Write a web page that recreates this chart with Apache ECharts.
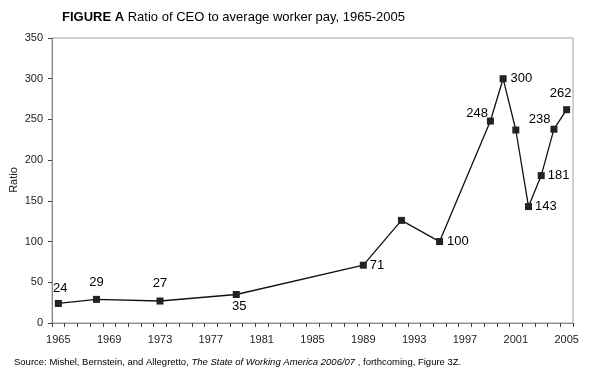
<!DOCTYPE html>
<html><head><meta charset="utf-8">
<script src="https://cdn.jsdelivr.net/npm/echarts@6/dist/echarts.min.js"></script>
<style>html,body{margin:0;padding:0;background:#fff}#c{width:600px;height:382px}</style>
</head><body><div id="c"></div>
<script>
// Data
const years = [];
for (let y = 1965; y <= 2005; y++) years.push(String(y));
const obsYears = [1965, 1968, 1973, 1979, 1989, 1992, 1995, 1999, 2000, 2001, 2002, 2003, 2004, 2005];
const ratios   = [24,   29,   27,   35,   71,   126,  100,  248,  300,  237,  143,  181,  238,  262];
const labeled  = [true, true, true, true, true, false, true, true, true, false, true, true, true, true];
const yTicks = [0, 50, 100, 150, 200, 250, 300, 350];

// label placement (style only)
const labelStyle = {
  1965: {position: 'top', distance: 5, offset: [2, 0]},
  1968: {position: 'top', distance: 7},
  1973: {position: 'top', distance: 8},
  1979: {position: 'bottom', distance: 2, offset: [3, 0]},
  1989: {position: 'right', distance: 3},
  1995: {position: 'right', distance: 4},
  1999: {position: 'left', distance: 1, offset: [2, -8]},
  2000: {position: 'right', distance: 4},
  2002: {position: 'right', distance: 3},
  2003: {position: 'right', distance: 3},
  2004: {position: 'left', distance: 0, offset: [0, -10]},
  2005: {position: 'top', distance: 6, offset: [-6, 0]}
};

const seriesData = years.map(y => {
  const i = obsYears.indexOf(+y);
  if (i < 0) return null;
  const item = {value: ratios[i]};
  if (labeled[i]) item.label = Object.assign({show: true}, labelStyle[+y]);
  else item.label = {show: false};
  return item;
});

const chart = echarts.init(document.getElementById('c'), null, {renderer: 'canvas'});
const font = 'Liberation Sans, Arial, sans-serif';
chart.setOption({
  animation: false,
  backgroundColor: '#fff',
  title: {
    text: '{b|FIGURE A} Ratio of CEO to average worker pay, 1965-2005',
    left: 57, top: 6,
    textStyle: {fontFamily: font, fontSize: 13, fontWeight: 'normal', color: '#000',
      rich: {b: {fontFamily: font, fontSize: 13, fontWeight: 'bold', color: '#000'}}}
  },
  graphic: [{
    type: 'text', left: 14, top: 357,
    style: {
      text: '{n|Source: Mishel, Bernstein, and Allegretto, }{i|The State of Working America 2006/07}{n| , forthcoming, Figure 3Z.}',
      rich: {
        n: {fontFamily: font, fontSize: 9.5, fill: '#000'},
        i: {fontFamily: font, fontSize: 9.5, fontStyle: 'italic', fill: '#000'}
      }
    }
  }, {
    type: 'text', x: 14, y: 180, rotation: Math.PI / 2,
    style: {text: 'Ratio', fontFamily: font, fontSize: 11, fill: '#222',
      align: 'center', verticalAlign: 'middle'}
  }],
  grid: {left: 52, right: 27, top: 38, bottom: 59, containLabel: false, outerBoundsMode: 'none',
    show: true, borderColor: '#a0a0a0', borderWidth: 1},
  xAxis: {
    type: 'category', data: years, boundaryGap: true,
    axisLine: {lineStyle: {color: '#888', width: 1}},
    axisTick: {show: true, interval: 0, length: 4, inside: false, lineStyle: {color: '#444'}},
    axisLabel: {interval: 3, fontFamily: font, fontSize: 11, color: '#222', margin: 11},
    splitLine: {show: false}
  },
  yAxis: {
    type: 'value', min: yTicks[0], max: yTicks[yTicks.length - 1], interval: 50,
    axisLine: {show: true, lineStyle: {color: '#888', width: 1}},
    axisTick: {show: true, length: 4, lineStyle: {color: '#444'}},
    axisLabel: {fontFamily: font, fontSize: 11, color: '#222', margin: 9},
    splitLine: {show: false}
  },
  series: [{
    type: 'line', data: seriesData, connectNulls: true,
    symbol: 'rect', symbolSize: 7,
    itemStyle: {color: '#222', borderWidth: 0},
    lineStyle: {color: '#111', width: 1.3},
    label: {fontFamily: font, fontSize: 13, color: '#000'}
  }]
});
</script></body></html>
